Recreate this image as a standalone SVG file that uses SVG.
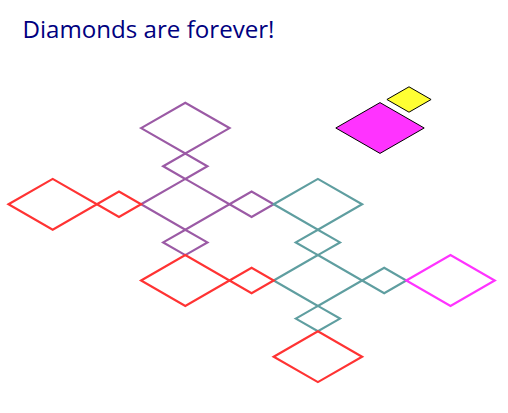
<svg xmlns="http://www.w3.org/2000/svg" xmlns:xlink="http://www.w3.org/1999/xlink" width="508" height="413" viewBox="0 0 508 413">
<style>
.o{fill:none;stroke-width:2.2;stroke-linejoin:miter}
.purple{stroke:#9b5aa5}
.teal{stroke:#5f9ea0}
.red{stroke:#ff3333}
.mag{stroke:#ff33ff}
.filled{stroke:#000;stroke-width:1}
.title{font-family:"Open Sans","DejaVu Sans","Liberation Sans",sans-serif;font-size:23px;fill:#000080}
</style>
<defs>
<polygon id="big" points="-44.2,0 0,-25.4 44.2,0 0,25.4"/>
<polygon id="small" points="-22.1,0 0,-12.7 22.1,0 0,12.7"/>
</defs>
<rect width="508" height="413" fill="#fff"/>
<text class="title" x="22.5" y="38.3" textLength="252" lengthAdjust="spacingAndGlyphs">Diamonds are forever!</text>
<g id="purple-top"><use xlink:href="#big" href="#big" class="o purple" x="185.3" y="128.1"/></g>
<g id="purple-top-small"><use href="#small" xlink:href="#small" class="o purple" x="185.3" y="166.2"/></g>
<g id="purple-center"><use href="#big" xlink:href="#big" class="o purple" x="185.3" y="204.3"/></g>
<g id="purple-right-small"><use href="#small" xlink:href="#small" class="o purple" x="251.6" y="204.3"/></g>
<g id="purple-bottom-small"><use href="#small" xlink:href="#small" class="o purple" x="185.3" y="242.4"/></g>
<g id="red-left-small"><use href="#small" xlink:href="#small" class="o red" x="119" y="204.3"/></g>
<g id="red-left-big"><use href="#big" xlink:href="#big" class="o red" x="52.7" y="204.3"/></g>
<g id="teal-upper"><use href="#big" xlink:href="#big" class="o teal" x="317.9" y="204.3"/></g>
<g id="teal-top-small"><use href="#small" xlink:href="#small" class="o teal" x="317.9" y="242.4"/></g>
<g id="teal-middle"><use href="#big" xlink:href="#big" class="o teal" x="317.9" y="280.5"/></g>
<g id="teal-right-small"><use href="#small" xlink:href="#small" class="o teal" x="384.2" y="280.5"/></g>
<g id="teal-bottom-small"><use href="#small" xlink:href="#small" class="o teal" x="317.9" y="318.6"/></g>
<g id="magenta-big"><use href="#big" xlink:href="#big" class="o mag" x="450.5" y="280.5"/></g>
<g id="red-mid-big"><use href="#big" xlink:href="#big" class="o red" x="185.3" y="280.5"/></g>
<g id="red-mid-small"><use href="#small" xlink:href="#small" class="o red" x="251.6" y="280.5"/></g>
<g id="red-bottom-big"><use href="#big" xlink:href="#big" class="o red" x="317.9" y="356.7"/></g>
<g id="filled-magenta"><use href="#big" xlink:href="#big" class="filled" fill="#ff33ff" x="380" y="128"/></g>
<g id="filled-yellow"><use href="#small" xlink:href="#small" class="filled" fill="#ffff33" x="409" y="99.5"/></g>
<g id="connectors"></g>
</svg>
